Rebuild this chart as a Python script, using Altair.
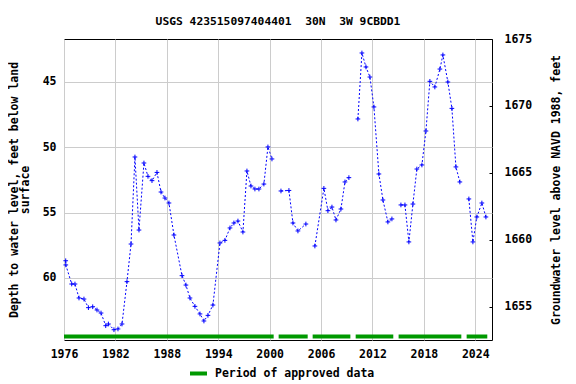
import altair as alt
import pandas as pd

# ---- data ----
seg1_year = [1976.20, 1976.21, 1976.90, 1977.28, 1977.75, 1978.33, 1978.85, 1979.35, 1979.85,
             1980.32, 1980.87, 1981.18, 1981.83, 1982.30, 1982.77, 1983.35, 1983.82, 1984.28,
             1984.75, 1985.33, 1985.80, 1986.27, 1986.85, 1987.32, 1987.78, 1988.25, 1988.83,
             1989.77, 1990.23, 1990.70, 1991.28, 1991.87, 1992.33, 1992.80, 1993.38, 1994.20,
             1994.78, 1995.37, 1995.83, 1996.30, 1996.88, 1997.35, 1997.82, 1998.28, 1998.75,
             1999.33, 1999.80, 2000.27]
seg1_depth = [58.68, 59.00, 60.46, 60.46, 61.53, 61.61, 62.27, 62.20, 62.45,
              62.68, 63.65, 63.52, 63.96, 63.90, 63.52, 60.28, 57.40, 50.74,
              56.33, 51.20, 52.22, 52.55, 51.92, 53.42, 53.88, 54.26, 56.71,
              59.82, 60.54, 61.53, 62.17, 62.75, 63.29, 62.86, 62.07, 57.32,
              57.12, 56.17, 55.79, 55.64, 56.48, 51.81, 52.96, 53.19, 53.19,
              52.81, 49.97, 50.89]
seg2_year = [2001.32, 2002.25, 2002.72, 2003.30, 2004.23]
seg2_depth = [53.34, 53.30, 55.79, 56.40, 55.87]
seg3_year = [2005.28, 2006.33, 2006.80, 2007.27, 2007.74, 2008.32, 2008.79, 2009.25]
seg3_depth = [57.55, 53.14, 54.85, 54.57, 55.56, 54.72, 52.65, 52.32]
seg4_year = [2010.30, 2010.77, 2011.24, 2011.70, 2012.17, 2012.75, 2013.22, 2013.80, 2014.27]
seg4_depth = [47.83, 42.78, 43.85, 44.62, 46.91, 52.04, 54.03, 55.71, 55.48]
seg5_year = [2015.32, 2015.79, 2016.25, 2016.72, 2017.18, 2017.77, 2018.24, 2018.70, 2019.28,
             2019.87, 2020.22, 2020.80, 2021.27, 2021.74, 2022.20]
seg5_depth = [54.41, 54.41, 57.24, 54.34, 51.66, 51.35, 48.75, 44.95, 45.38,
              44.01, 42.93, 45.00, 47.02, 51.50, 52.65]
seg6_year = [2023.25, 2023.72, 2024.18, 2024.77, 2025.24]
seg6_depth = [53.95, 57.24, 55.33, 54.26, 55.33]

approved_start = [1976.00, 2001.05, 2005.02, 2010.04, 2015.05, 2022.99]
approved_end = [2000.47, 2004.44, 2009.42, 2014.43, 2022.37, 2025.40]

x_ticks = [1976, 1982, 1988, 1994, 2000, 2006, 2012, 2018, 2024]
left_ticks = [45, 50, 55, 60]
right_ticks = [1655, 1660, 1665, 1670, 1675]

title_text = "USGS 423515097404401\u00a0\u00a030N\u00a0\u00a03W 9CBDD1"
left_title = ["Depth to water level, feet below land", "surface"]
right_title = "Groundwater level above NAVD 1988, feet"
legend_label = "Period of approved data"

# ---- build tables ----
segs = [(seg1_year, seg1_depth), (seg2_year, seg2_depth), (seg3_year, seg3_depth),
        (seg4_year, seg4_depth), (seg5_year, seg5_depth), (seg6_year, seg6_depth)]
rows = []
for i, (ys, ds) in enumerate(segs):
    for y, d in zip(ys, ds):
        rows.append({"year": y, "depth": d, "seg": i})
df = pd.DataFrame(rows)
df_app = pd.DataFrame({"start": approved_start, "end": approved_end,
                       "label": [legend_label] * len(approved_start)})
df_right = pd.DataFrame({"elev": right_ticks})

FONT = "DejaVu Sans Mono"
xscale = alt.Scale(domain=[1976.0, 2025.95], nice=False, zero=False)
yscale = alt.Scale(domain=[64.745, 41.71], nice=False, zero=False)

xaxis = alt.Axis(values=x_ticks, format="d", title=None, grid=True, gridColor="#cccccc",
                 ticks=False, tickSize=0, domain=False, labelPadding=8, labelFlush=False,
                 labelFont=FONT, labelFontSize=11.5, labelFontWeight="bold", labelColor="black")
yaxis = alt.Axis(values=left_ticks, title=left_title, grid=True, gridColor="#cccccc",
                 ticks=False, tickSize=0, domain=False, labelPadding=8,
                 labelFont=FONT, labelFontSize=11.5, labelFontWeight="bold", labelColor="black",
                 titleFont=FONT, titleFontSize=11.5, titleFontWeight="bold", titleColor="black",
                 titleX=-50, titleY=150.5, titleAngle=270, titleBaseline="middle",
                 titleLineHeight=11.5)

approved = alt.Chart(df_app).mark_rule(strokeWidth=4, strokeCap="butt").encode(
    x=alt.X("start:Q", scale=xscale, axis=xaxis),
    x2="end:Q",
    y=alt.value(297.5),
    color=alt.Color("label:N", scale=alt.Scale(domain=[legend_label], range=["#009900"]),
                    legend=alt.Legend(orient="none", legendX=124, legendY=324, title=None,
                                      symbolType="stroke", symbolStrokeWidth=4, symbolSize=289,
                                      labelFont=FONT, labelFontSize=11.5, labelFontWeight="bold",
                                      labelColor="black", labelOffset=6, padding=0)),
)

line = alt.Chart(df).mark_line(color="#0000ff", strokeWidth=1, strokeDash=[2, 2]).encode(
    x=alt.X("year:Q", scale=xscale, axis=xaxis),
    y=alt.Y("depth:Q", scale=yscale, axis=yaxis),
    detail="seg:N",
)
points = alt.Chart(df).mark_point(shape="M-1,0H1M0,-1V1", filled=False, color="#0000ff",
                                  strokeWidth=1, size=22, opacity=1).encode(
    x=alt.X("year:Q", scale=xscale, axis=xaxis),
    y=alt.Y("depth:Q", scale=yscale, axis=yaxis),
)

main = alt.layer(approved, line, points)

right = alt.Chart(df_right).mark_point(opacity=0).encode(
    x=alt.value(0),
    y=alt.Y("elev:Q", scale=alt.Scale(domain=[1652.5, 1675.0], nice=False, zero=False),
            axis=alt.Axis(orient="right", values=right_ticks, format="d", title=right_title,
                          grid=False, domain=False, ticks=True, tickSize=3, tickColor="black",
                          offset=-3, labelPadding=12, labelFont=FONT, labelFontSize=11.5,
                          labelFontWeight="bold", labelColor="black",
                          titleFont=FONT, titleFontSize=11.5, titleFontWeight="bold",
                          titleColor="black", titleX=67, titleY=150.5, titleAngle=270,
                          titleBaseline="middle")),
)

chart = alt.layer(main, right).resolve_scale(y="independent").properties(
    width=428, height=301,
    title=alt.TitleParams(text=title_text, frame="group", anchor="middle", font=FONT,
                          fontSize=11.3, fontWeight="bold", color="black", offset=6),
    autosize=alt.AutoSizeParams(type="none"),
    padding={"left": 56, "top": 31, "right": 76, "bottom": 44},
).configure_view(stroke="black", strokeWidth=1)

chart.save("out.html", embed_options={"renderer": "svg", "actions": False})
